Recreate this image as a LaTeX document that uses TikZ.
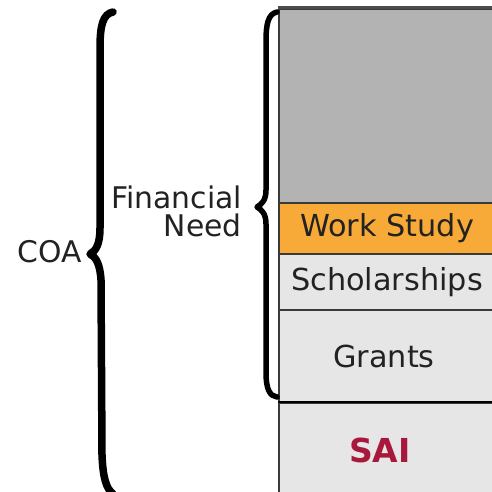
\documentclass[tikz,border=0pt]{standalone}
\usepackage{fontspec}
\setmainfont{DejaVu Sans}
\begin{document}
\begin{tikzpicture}[x=1pt,y=-1pt]
\definecolor{topgray}{HTML}{B3B3B3}
\definecolor{wsorange}{HTML}{F8AA38}
\definecolor{cellgray}{HTML}{E6E6E6}
\definecolor{saired}{HTML}{A8183C}
\definecolor{txt}{HTML}{222222}
\definecolor{edge}{HTML}{3A3A3A}
\tikzset{
  cell/.style={draw=edge, line width=2pt, anchor=north west, inner sep=0pt,
    minimum width=216pt, text=txt, font=\fontsize{30.3}{30}\selectfont},
  lbl/.style={text=txt, inner sep=0pt, font=\fontsize{29.8}{28}\selectfont},
  bracepath/.style={draw=black, line cap=round, line join=round}
}
\useasboundingbox (0,0) rectangle (492,492);
\clip (0,0) rectangle (492,492);
\fill[white] (0,0) rectangle (492,492);

% column cells
\node[cell, fill=topgray, minimum height=194pt] (need) at (278,8) {};
\node[cell, fill=wsorange, minimum height=51pt] (ws) at (278,202) {Work Study};
\node[cell, fill=cellgray, minimum height=56pt] (sch) at (278,253) {Scholarships};
\node[cell, fill=cellgray, minimum height=93pt] (gr) at (278,309) {\hspace*{-6pt}Grants};
\node[cell, fill=cellgray, minimum height=98pt] (sai) at (278,402) {};
\draw[line width=3pt, draw=black!70] (need.north west) -- (need.north east);
\draw[line width=2.5pt, draw=black] (sai.north west) -- (sai.north east);
\node[text=saired, inner sep=0pt, font=\bfseries\fontsize{33}{33}\selectfont] (sailbl) at (380,450) {SAI};

% labels
\node[lbl] (coa) at (50,252) {COA};
\node[lbl, align=right, anchor=east] (fn) at (242,211) {Financial\\Need};

% COA brace
\draw[bracepath, line width=7.5pt]
  (113,12) .. controls (103,14) and (100,25) .. (100,48)
  -- (100,228) .. controls (100,244) and (96,251) .. (90,254)
  .. controls (96,257) and (100,264) .. (101,280)
  -- (102,455) .. controls (103,478) and (106,488) .. (113,494);
% Financial Need brace
\draw[bracepath, line width=5.5pt]
  (277,12) .. controls (268,14) and (266,24) .. (266,42)
  -- (266,190) .. controls (266,200) and (262,204) .. (257,207)
  .. controls (262,210) and (266,214) .. (266,224)
  -- (266,372) .. controls (266,390) and (270,396) .. (277,397);
\end{tikzpicture}
\end{document}
